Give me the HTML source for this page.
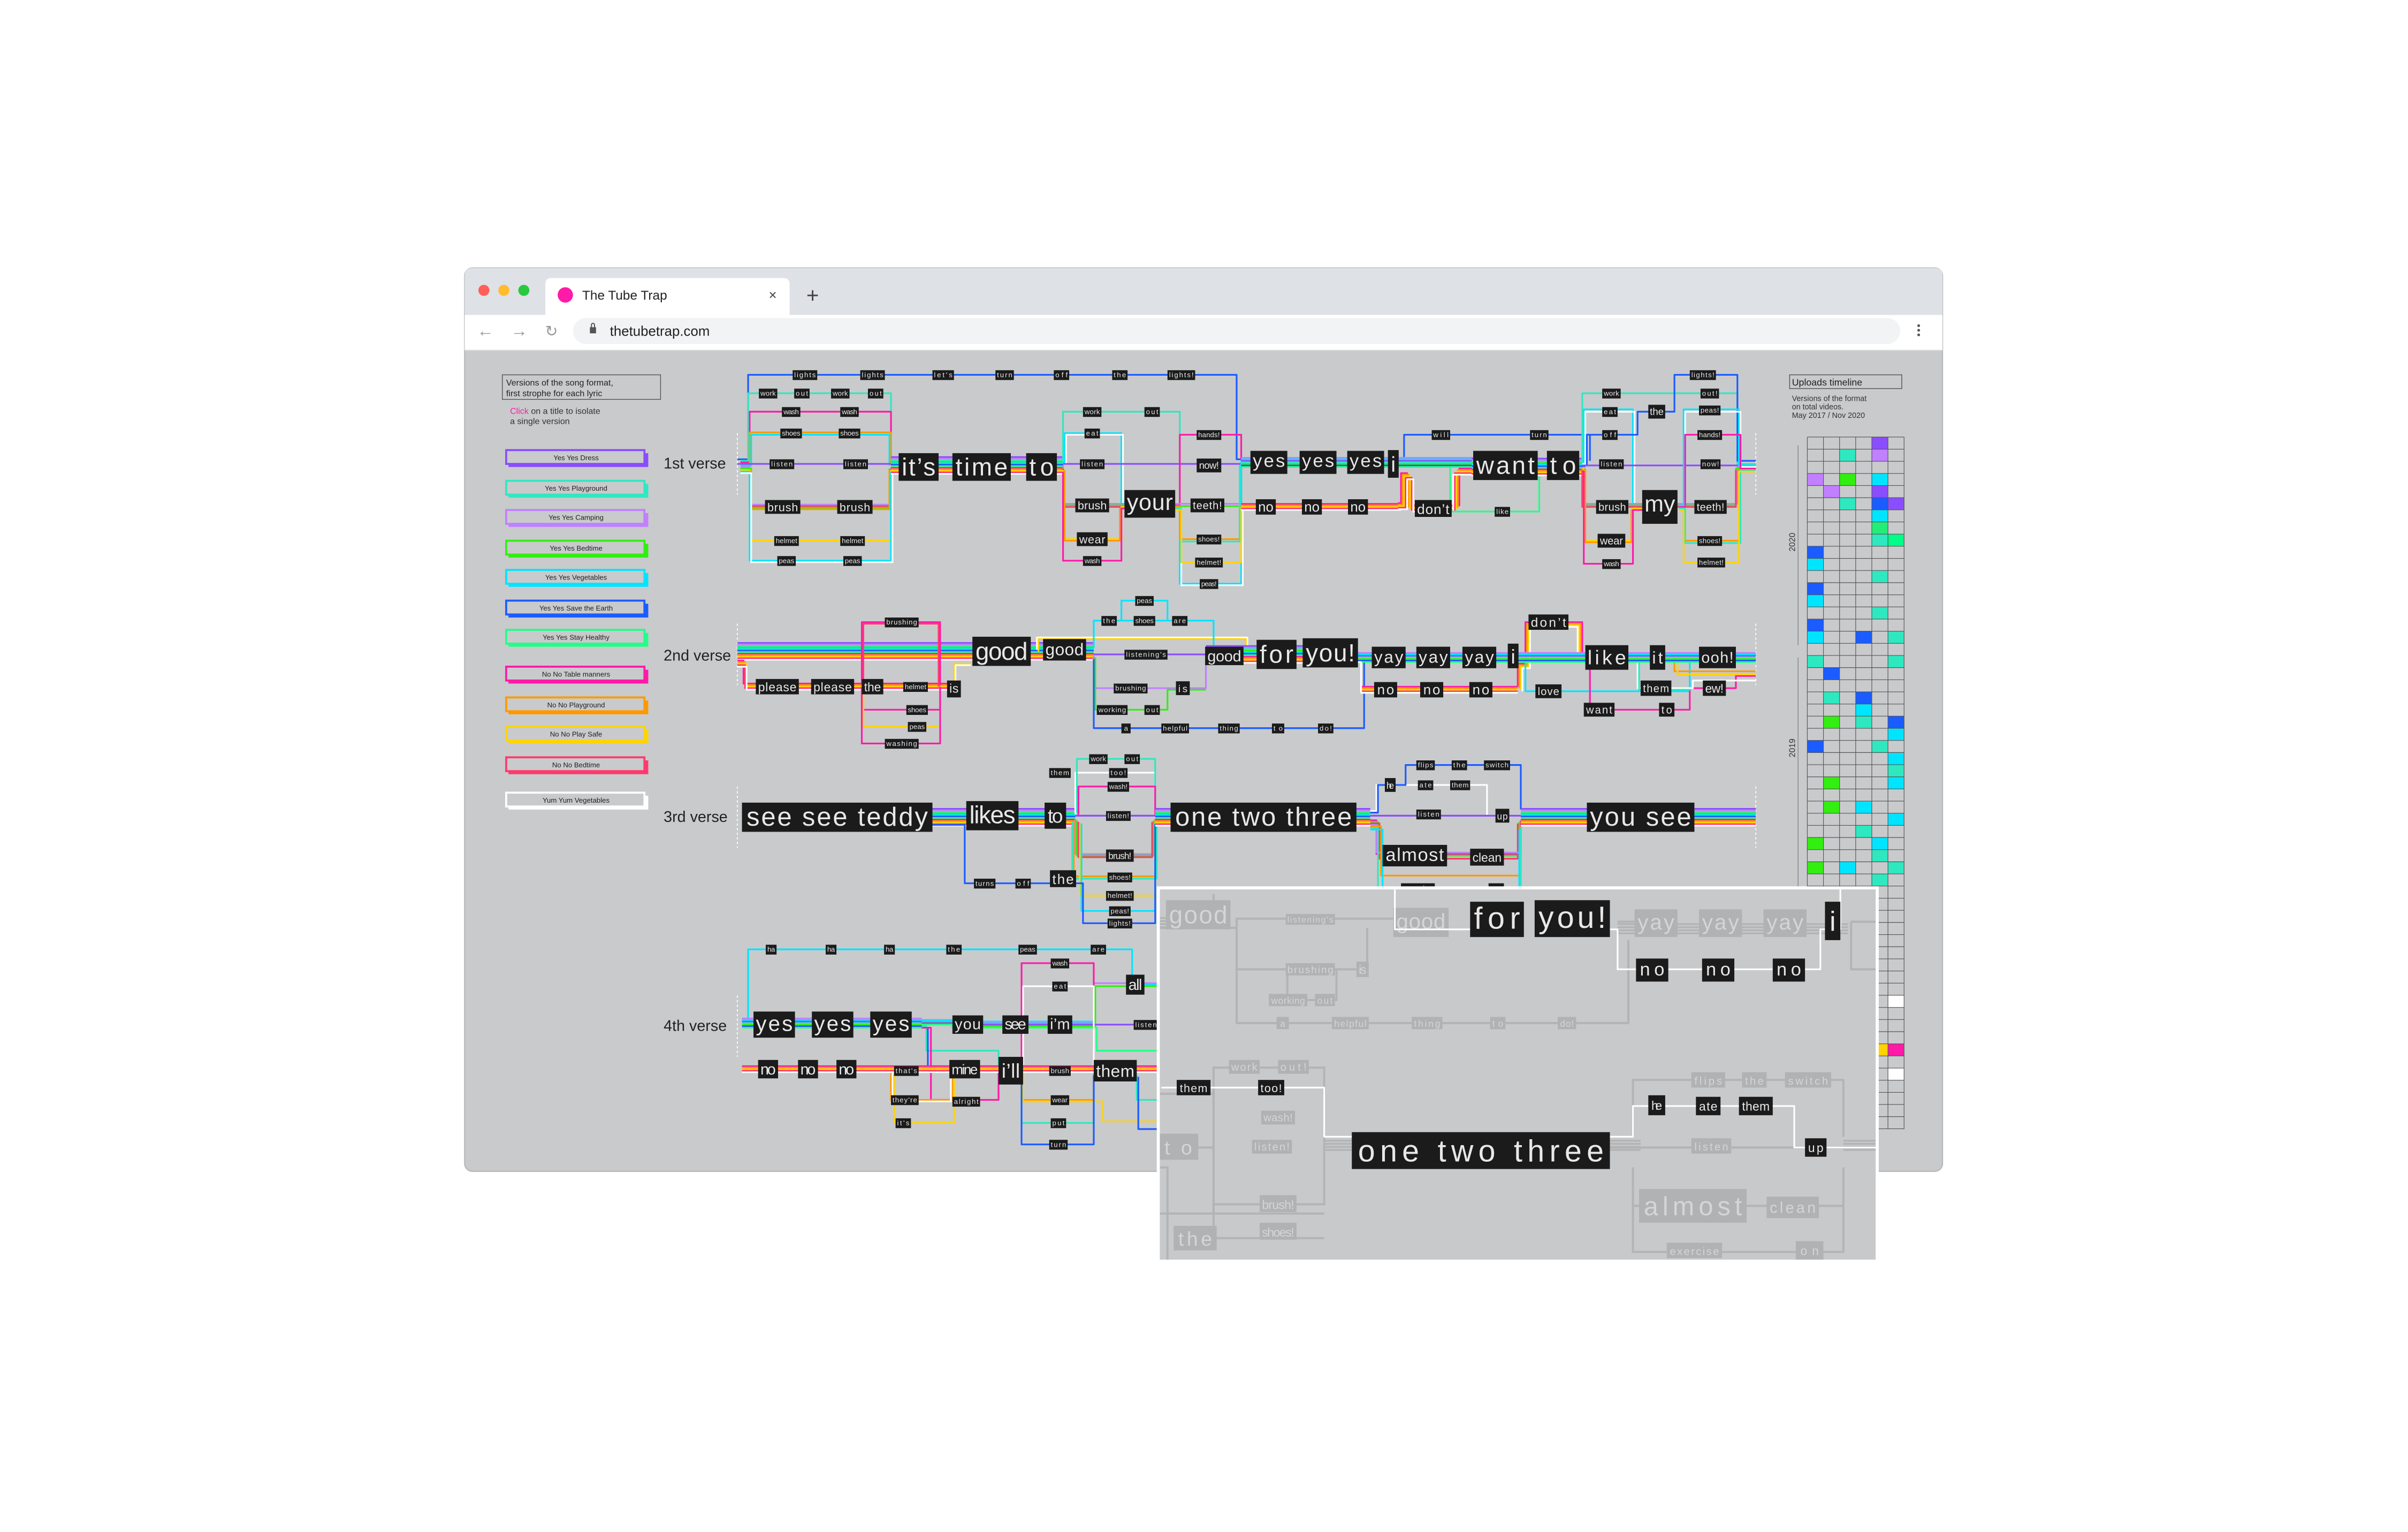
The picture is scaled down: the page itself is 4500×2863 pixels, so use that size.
<!DOCTYPE html>
<html><head><meta charset="utf-8"><style>
html,body{margin:0;padding:0;background:#fff}
svg{display:block}
text{font-family:"Liberation Sans",sans-serif}
.n rect{fill:#1b1b1b}
.n text{fill:#e8e8e8;text-anchor:middle}
.f rect{fill:#b1b2b4}
.f text{fill:#d4d5d7;text-anchor:middle}
.k{fill:none;stroke-width:1.1;stroke-linejoin:round}
.g{fill:none;stroke:#b3b4b6;stroke-width:1.4;stroke-linejoin:round}
.lg rect.b{fill:#c9cacc;stroke-width:1.3}
.lg text{font-size:4.6px;text-anchor:middle;fill:#222}
</style></head><body>
<svg width="4500" height="2863" viewBox="0 0 1567.4 997.3" preserveAspectRatio="xMinYMin meet" xmlns="http://www.w3.org/2000/svg">
<defs>
<g id="A"><rect y="-6" width="1" height="1" fill="#8a4dff"/><rect y="-5" width="1" height="1" fill="#c080ff"/><rect y="-4" width="1" height="1" fill="#2ee8c0"/><rect y="-3" width="1" height="1" fill="#33ee11"/><rect y="-2" width="1" height="1" fill="#00e5ff"/><rect y="-1" width="1" height="1" fill="#1a5cff"/><rect y="0" width="1" height="1" fill="#22ff88"/><rect y="1" width="1" height="1" fill="#ff1aa8"/><rect y="2" width="1" height="1" fill="#ff9900"/><rect y="3" width="1" height="1" fill="#ffd400"/><rect y="4" width="1" height="1" fill="#ff3a6e"/><rect y="5" width="1" height="1" fill="#ffffff"/></g>
<g id="Y"><rect y="-3.5" width="1" height="1" fill="#c080ff"/><rect y="-2.5" width="1" height="1" fill="#00e5ff"/><rect y="-1.5" width="1" height="1" fill="#8a4dff"/><rect y="-0.5" width="1" height="1" fill="#2ee8c0"/><rect y="0.5" width="1" height="1" fill="#33ee11"/><rect y="1.5" width="1" height="1" fill="#1a5cff"/><rect y="2.5" width="1" height="1" fill="#22ff88"/></g>
<g id="N"><rect y="-2.5" width="1" height="1" fill="#ff1aa8"/><rect y="-1.5" width="1" height="1" fill="#ff9900"/><rect y="-0.5" width="1" height="1" fill="#ffd400"/><rect y="0.5" width="1" height="1" fill="#ff3a6e"/><rect y="1.5" width="1" height="1" fill="#ffffff"/></g>
<g id="F"><rect y="-3" width="1" height="1.2" fill="#b3b4b6"/><rect y="-1" width="1" height="1.2" fill="#b3b4b6"/><rect y="1" width="1" height="1.2" fill="#b3b4b6"/><rect y="3" width="1" height="1.2" fill="#b3b4b6"/></g>
</defs>

<!-- browser window -->
<rect x="302.5" y="174.5" width="962" height="588" rx="5" fill="#c9cacc" stroke="#b8b8b8" stroke-width="0.8"/>
<path d="M302.5 205 V179.5 Q302.5 174.5 307.5 174.5 H1259.5 Q1264.5 174.5 1264.5 179.5 V205 Z" fill="#dee1e6"/>
<rect x="302.5" y="205" width="962" height="23" fill="#ffffff"/>
<circle cx="315" cy="189" r="3.6" fill="#ff5f57"/><circle cx="328" cy="189" r="3.6" fill="#febc2e"/><circle cx="341" cy="189" r="3.6" fill="#28c840"/>
<path d="M355 205 V185 Q355 181 359 181 H510 Q514 181 514 185 V205 Z" fill="#fff"/>
<circle cx="368" cy="192" r="5" fill="#ff1aa8"/>
<text x="379" y="195" font-size="8.5" fill="#222">The Tube Trap</text>
<text x="503" y="195" font-size="9" fill="#444" text-anchor="middle">×</text>
<text x="529" y="197" font-size="14" fill="#444" text-anchor="middle">+</text>
<text x="316" y="219" font-size="11" fill="#999" text-anchor="middle">←</text>
<text x="338" y="219" font-size="11" fill="#999" text-anchor="middle">→</text>
<text x="359" y="219" font-size="10" fill="#999" text-anchor="middle">↻</text>
<rect x="373" y="207" width="864" height="17" rx="8.5" fill="#f1f3f4"/>
<rect x="384" y="213" width="4" height="4" fill="#555"/><path d="M385 213 V211.5 A1 1 0 0 1 387 211.5 V213" stroke="#555" stroke-width="0.7" fill="none"/>
<text x="397" y="218.5" font-size="9" fill="#222">thetubetrap.com</text>
<circle cx="1249" cy="212" r="0.9" fill="#555"/><circle cx="1249" cy="215" r="0.9" fill="#555"/><circle cx="1249" cy="218" r="0.9" fill="#555"/>
<line x1="302.5" y1="228" x2="1264.5" y2="228" stroke="#ddd" stroke-width="0.6"/>

<!-- legend -->
<rect x="327" y="244" width="103" height="16" fill="none" stroke="#555" stroke-width="0.5"/>
<text x="329.5" y="251" font-size="5.6" fill="#222">Versions of the song format,</text>
<text x="329.5" y="258" font-size="5.6" fill="#222">first strophe for each lyric</text>
<text x="332" y="269.5" font-size="5.6" fill="#333"><tspan fill="#ff1aa8">Click</tspan> on a title to isolate</text>
<text x="332" y="276" font-size="5.6" fill="#333">a single version</text>
<g class="lg">
<rect x="331" y="295" width="91" height="9" fill="#8a4dff"/><rect class="b" x="329.5" y="293" width="90" height="9" stroke="#8a4dff"/><text x="375" y="299.5">Yes Yes Dress</text>
<rect x="331" y="315" width="91" height="9" fill="#2ee8c0"/><rect class="b" x="329.5" y="313" width="90" height="9" stroke="#2ee8c0"/><text x="375" y="319.5">Yes Yes Playground</text>
<rect x="331" y="334" width="91" height="9" fill="#c080ff"/><rect class="b" x="329.5" y="332" width="90" height="9" stroke="#c080ff"/><text x="375" y="338.5">Yes Yes Camping</text>
<rect x="331" y="354" width="91" height="9" fill="#33ee11"/><rect class="b" x="329.5" y="352" width="90" height="9" stroke="#33ee11"/><text x="375" y="358.5">Yes Yes Bedtime</text>
<rect x="331" y="373" width="91" height="9" fill="#00e5ff"/><rect class="b" x="329.5" y="371" width="90" height="9" stroke="#00e5ff"/><text x="375" y="377.5">Yes Yes Vegetables</text>
<rect x="331" y="393" width="91" height="9" fill="#1a5cff"/><rect class="b" x="329.5" y="391" width="90" height="9" stroke="#1a5cff"/><text x="375" y="397.5">Yes Yes Save the Earth</text>
<rect x="331" y="412" width="91" height="9" fill="#22ff88"/><rect class="b" x="329.5" y="410" width="90" height="9" stroke="#22ff88"/><text x="375" y="416.5">Yes Yes Stay Healthy</text>
<rect x="331" y="436" width="91" height="9" fill="#ff1aa8"/><rect class="b" x="329.5" y="434" width="90" height="9" stroke="#ff1aa8"/><text x="375" y="440.5">No No Table manners</text>
<rect x="331" y="456" width="91" height="9" fill="#ff9900"/><rect class="b" x="329.5" y="454" width="90" height="9" stroke="#ff9900"/><text x="375" y="460.5">No No Playground</text>
<rect x="331" y="475" width="91" height="9" fill="#ffd400"/><rect class="b" x="329.5" y="473" width="90" height="9" stroke="#ffd400"/><text x="375" y="479.5">No No Play Safe</text>
<rect x="331" y="495" width="91" height="9" fill="#ff3a6e"/><rect class="b" x="329.5" y="493" width="90" height="9" stroke="#ff3a6e"/><text x="375" y="499.5">No No Bedtime</text>
<rect x="331" y="518" width="91" height="9" fill="#ffffff"/><rect class="b" x="329.5" y="516" width="90" height="9" stroke="#ffffff"/><text x="375" y="522.5">Yum Yum Vegetables</text>
</g>

<!-- verse labels -->
<g font-size="10" fill="#222"><text x="432" y="305">1st verse</text><text x="432" y="430">2nd verse</text><text x="432" y="535">3rd verse</text><text x="432" y="671">4th verse</text></g>
<g stroke="#fff" stroke-width="0.6" stroke-dasharray="1.5 1.5"><line x1="480" y1="282" x2="480" y2="322"/><line x1="480" y1="406" x2="480" y2="446"/><line x1="480" y1="512" x2="480" y2="552"/><line x1="480" y1="648" x2="480" y2="688"/><line x1="1143" y1="282" x2="1143" y2="322"/><line x1="1143" y1="406" x2="1143" y2="446"/><line x1="1143" y1="512" x2="1143" y2="552"/></g>

<!-- ===== VERSE 1 lines ===== -->
<g class="k">
<path stroke="#1a5cff" d="M480 299 H487 V244 H805 V299 H815"/>
<path stroke="#2ee8c0" d="M482 300 H487 V256 H580 V301 H585"/>
<path stroke="#ff1aa8" d="M482 301 H488 V268 H580 V302 H585"/>
<path stroke="#ff9900" d="M482 302 H488 V281.5 H580 V303"/>
<path stroke="#00e5ff" d="M482 303 H489 V283 H579 V303"/>
<path stroke="#8a4dff" d="M480 302 H585"/>
<path stroke="#c080ff" d="M482 304 H488 V328.5 H580 V304"/>
<path stroke="#ff3a6e" d="M482 305 H488 V329.5 H580 V305"/>
<path stroke="#33ee11" d="M482 305 H489 V330.5 H579 V305"/>
<path stroke="#ff9900" d="M482 306 H489 V331.5 H579 V306"/>
<path stroke="#ffd400" d="M482 306 H488 V352 H580 V306"/>
<path stroke="#00e5ff" d="M482 307 H488 V365 H580 V307"/>
<path stroke="#ffffff" d="M482 308 H489 V366 H581 V308"/>
</g>
<use href="#A" transform="translate(580 303) scale(112 1)"/>
<g class="k">
<path stroke="#2ee8c0" d="M692 300 V268 H768 V302"/>
<path stroke="#00e5ff" d="M692 301 H693 V282 H730 V327 H735"/>
<path stroke="#ffffff" d="M692 302 H694 V283 H731 V328 H735"/>
<path stroke="#8a4dff" d="M692 302 H808"/>
<path stroke="#c080ff" d="M692 303 V328 H735"/>
<path stroke="#33ee11" d="M692 304 V329 H735"/>
<path stroke="#ff3a6e" d="M692 305 V330 H735"/>
<path stroke="#ffd400" d="M692 306 V351 H730 V330 H735"/>
<path stroke="#ff9900" d="M693 306 V352 H729 V331 H735"/>
<path stroke="#ff1aa8" d="M692 307 V365 H730 V331 H735"/>
<path stroke="#ff1aa8" d="M764 329 H768 V283 H808 V330 H815"/>
<path stroke="#c080ff" d="M764 328 H808 V301"/>
<path stroke="#33ee11" d="M764 329.5 H808 V302"/>
<path stroke="#00e5ff" d="M764 330 H768 V380 H808 V300 H815"/>
<path stroke="#ffffff" d="M764 331 H769 V381 H809 V332 H815"/>
<path stroke="#ff9900" d="M764 330 H768 V351 H808 V329 H815"/>
<path stroke="#2ee8c0" d="M764 331 H769 V352.5 H807 V303 H815"/>
<path stroke="#ffd400" d="M764 332 H769 V366 H808 V331 H815"/>
</g>
<use href="#Y" transform="translate(808 301) scale(104 1)"/>
<use href="#N" transform="translate(808 330) scale(104 1)"/>
<g class="k">
<path stroke="#ff1aa8" d="M910 327.5 H912 V308 H916 V329 H950 V305 H960"/>
<path stroke="#ff9900" d="M910 328.5 H913 V309 H917 V330 H949 V306 H960"/>
<path stroke="#ffd400" d="M910 329.5 H914 V310 H918 V331 H948 V307 H960"/>
<path stroke="#ff3a6e" d="M910 330.5 H915 V311 H919 V332 H947 V308 H960"/>
<path stroke="#ffffff" d="M910 331.5 H916 V312 H920 V333 H946 V309 H960"/>
<path stroke="#1a5cff" d="M910 299 H914 V283 H1035 V300"/>
<path stroke="#22ff88" d="M944 302 V333 H1002 V306 H1012"/>
</g>
<use href="#Y" transform="translate(910 301) scale(50 1)"/>
<use href="#A" transform="translate(958 304) scale(74 1)"/>
<g class="k">
<path stroke="#2ee8c0" d="M1030 300 V256 H1131 V302 H1143"/>
<path stroke="#00e5ff" d="M1030 301 H1031 V266.5 H1063 V328 H1070"/>
<path stroke="#ffffff" d="M1030 302 H1032 V268 H1064 V329 H1070"/>
<path stroke="#1a5cff" d="M1030 303 H1033 V283 H1066 V268 H1090 V244 H1131 V300 H1143"/>
<path stroke="#8a4dff" d="M1030 303 H1143"/>
<path stroke="#c080ff" d="M1030 304 V328 H1131 V304 H1143"/>
<path stroke="#33ee11" d="M1030 305 V329 H1130 V305 H1143"/>
<path stroke="#ff3a6e" d="M1030 306 V330 H1130 V306"/>
<path stroke="#ffd400" d="M1030 305 H1031 V352 H1063 V331 H1070"/>
<path stroke="#ff9900" d="M1030 306 H1032 V353 H1062 V332 H1070"/>
<path stroke="#ff1aa8" d="M1030 307 H1031 V367 H1063 V332 H1070"/>
<path stroke="#00e5ff" d="M1093 329 H1096 V266.5 H1132 V303 H1143"/>
<path stroke="#ffffff" d="M1093 330 H1097 V268 H1133 V304 H1143"/>
<path stroke="#ff1aa8" d="M1093 330 H1097 V283 H1133 V305 H1143"/>
<path stroke="#ff9900" d="M1093 331 H1096 V352 H1132 V306 H1143"/>
<path stroke="#2ee8c0" d="M1093 331 H1097 V353.5 H1133 V306.5 H1143"/>
<path stroke="#ffd400" d="M1093 332 H1096 V366 H1132 V307 H1143"/>
</g>

<!-- ===== VERSE 2 lines ===== -->
<use href="#A" transform="translate(480 424) scale(152 1)"/>
<g class="k">
<path stroke="#ff1aa8" d="M480 430 H484 V445 H621"/>
<path stroke="#ff9900" d="M480 431 H485 V446 H621"/>
<path stroke="#ffd400" d="M480 432 H486 V447 H621 V432 H632"/>
<path stroke="#ff3a6e" d="M480 433 H485 V448 H621"/>
<path stroke="#ffffff" d="M480 434 H486 V449 H622 V433 H632"/>
<path stroke="#ff1aa8" d="M561 446 V405 H612 V446"/>
<path stroke="#ff3a6e" d="M562 447 V406 H611 V447"/>
<path stroke="#ff1aa8" d="M561 447 V462 H612 V447"/>
<path stroke="#ffd400" d="M562 448 V473 H611"/>
<path stroke="#ff1aa8" d="M561 448 V484 H612 V448"/>
</g>
<use href="#A" transform="translate(632 424) scale(80 1)"/>
<g class="k">
<path stroke="#ffffff" d="M675 423 V415 H812 V426 H816"/>
<path stroke="#ffd400" d="M676 424 V416 H811 V427"/>
<path stroke="#00e5ff" d="M712 422 V404 H790 V425"/>
<path stroke="#00e5ff" d="M730 404 V391 H760 V404"/>
<path stroke="#8a4dff" d="M712 426 H790"/>
<path stroke="#c080ff" d="M712 427 V448 H785 V427"/>
<path stroke="#33ee11" d="M713 428 V462 H760 V449 H785"/>
<path stroke="#1a5cff" d="M712 429 V474 H888 V430"/>
</g>
<use href="#A" transform="translate(785 426) scale(95 1)"/>
<use href="#Y" transform="translate(880 428) scale(108 1)"/>
<use href="#N" transform="translate(886 449) scale(102 1)"/>
<g class="k">
<path stroke="#ffffff" d="M880 431 H886 V451 H988"/>
<path stroke="#ff1aa8" d="M988 447 V432 H993 V405 H1030 V426 H1040"/>
<path stroke="#ff9900" d="M989 448 V433 H994 V406 H1029 V427"/>
<path stroke="#ffd400" d="M990 449 V434 H995 V407 H1028 V428"/>
<path stroke="#ffffff" d="M991 450 V435 H996 V408 H1027 V429"/>
<path stroke="#00e5ff" d="M993 431 V450 H1100 V430 H1143"/>
<path stroke="#ff1aa8" d="M1035 431 V462 H1100 V448 H1130 V440 H1143"/>
<path stroke="#ffffff" d="M1066 430 V448 H1102 V443 H1143"/>
<path stroke="#2ee8c0" d="M1067 431 V449 H1101"/>
<path stroke="#ff9900" d="M1090 431 V437 H1143"/>
<path stroke="#ffd400" d="M1092 432 V439 H1143"/>
</g>
<use href="#Y" transform="translate(985 428) scale(158 1)"/>

<!-- ===== VERSE 3 lines ===== -->
<use href="#A" transform="translate(483 532) scale(217 1)"/>
<g class="k">
<path stroke="#ffffff" d="M700 530 V503 H752 V530 H762"/>
<path stroke="#2ee8c0" d="M701 529 V494 H752 V529"/>
<path stroke="#ff1aa8" d="M702 531 V512 H752 V531"/>
<path stroke="#8a4dff" d="M700 531 H762"/>
<path stroke="#c080ff" d="M700 533 V556 H752 V533"/>
<path stroke="#33ee11" d="M701 534 V557 H751 V534"/>
<path stroke="#ff3a6e" d="M702 535 V558 H750 V535"/>
<path stroke="#ff9900" d="M699 534 V570.5 H752 V534"/>
<path stroke="#2ee8c0" d="M698 535 V572 H753 V535"/>
<path stroke="#ffd400" d="M703 536 V583 H752 V536"/>
<path stroke="#00e5ff" d="M704 536 V593 H752 V536"/>
<path stroke="#1a5cff" d="M607 537 H628 V575 H705 V601 H752 V537 H762"/>
</g>
<use href="#A" transform="translate(752 532) scale(140 1)"/>
<g class="k">
<path stroke="#ffffff" d="M892 528 H896 V511 H968 V531 H990"/>
<path stroke="#1a5cff" d="M892 529 H897 V511 H915 V498 H990 V527"/>
<path stroke="#8a4dff" d="M892 531 H990"/>
<path stroke="#ff1aa8" d="M892 534 H896 V556 H990 V534"/>
<path stroke="#33ee11" d="M892 535 H897 V557 H989 V535"/>
<path stroke="#ff3a6e" d="M892 536 H898 V559 H988 V536"/>
<path stroke="#c080ff" d="M892 537 H896 V555 H990"/>
<path stroke="#ff9900" d="M892 538 H899 V570 H990 V538"/>
<path stroke="#2ee8c0" d="M892 539 H897 V580 H990 V539"/>
<path stroke="#00e5ff" d="M892 540 H900 V580 H989 V540"/>
</g>
<use href="#A" transform="translate(990 532) scale(153 1)"/>

<!-- ===== VERSE 4 lines ===== -->
<g class="k">
<path stroke="#00e5ff" d="M483 663 H487 V618 H737 V641 H755"/>
</g>
<use href="#Y" transform="translate(483 666) scale(117 1)"/>
<g class="k">
<path stroke="#c080ff" d="M600 664 H620 V666 H712 V640 H755"/>
<path stroke="#33ee11" d="M600 665 H620 V668 H713 V642 H755"/>
<path stroke="#8a4dff" d="M600 666 H620 V667 H755"/>
<path stroke="#00e5ff" d="M600 664.5 H620 V665 H712"/>
<path stroke="#22ff88" d="M600 667 H620 V669 H714 V684 H755"/>
<path stroke="#2ee8c0" d="M600 668 H603 V684 H650 V697"/>
<path stroke="#1a5cff" d="M600 669 H604 V697 H650"/>
<path stroke="#ff1aa8" d="M600 669 H606 V716 H650 V697"/>
<path stroke="#ff9900" d="M580 697 V716 H620 V697"/>
<path stroke="#ffffff" d="M581 698 V717 H619 V698"/>
<path stroke="#ffd400" d="M582 699 V731 H621 V699"/>
<path stroke="#ff1aa8" d="M665 696 V627 H712 V696"/>
<path stroke="#ffffff" d="M666 697 V642 H712 V697"/>
<path stroke="#ff9900" d="M665 698 V716 H712 V698"/>
<path stroke="#ffd400" d="M666 699 V717 H718 V730 H754"/>
<path stroke="#2ee8c0" d="M665 699 V731 H712 V699"/>
<path stroke="#1a5cff" d="M665 700 V745 H712 V700"/>
<path stroke="#2ee8c0" d="M740 700 V716 H754"/>
<path stroke="#1a5cff" d="M741 701 V735 H754"/>
</g>
<use href="#N" transform="translate(483 696) scale(271 1)"/>

<!-- ===== NODES ===== -->
<g class="n">
<g font-size="4.6">
<rect x="516" y="241" width="16" height="6.4"/><text x="524" y="245.6" textLength="14">lights</text>
<rect x="560" y="241" width="16" height="6.4"/><text x="568" y="245.6" textLength="14">lights</text>
<rect x="607" y="241" width="14" height="6.4"/><text x="614" y="245.6" textLength="12">let's</text>
<rect x="648" y="241" width="12" height="6.4"/><text x="654" y="245.6" textLength="10">turn</text>
<rect x="686" y="241" width="10" height="6.4"/><text x="691" y="245.6" textLength="8">off</text>
<rect x="724" y="241" width="10" height="6.4"/><text x="729" y="245.6" textLength="8">the</text>
<rect x="760" y="241" width="18" height="6.4"/><text x="769" y="245.6" textLength="16">lights!</text>
<rect x="494" y="253" width="12" height="6.4"/><text x="500" y="257.6" textLength="10">work</text>
<rect x="517" y="253" width="10" height="6.4"/><text x="522" y="257.6" textLength="8">out</text>
<rect x="541" y="253" width="12" height="6.4"/><text x="547" y="257.6" textLength="10">work</text>
<rect x="565" y="253" width="10" height="6.4"/><text x="570" y="257.6" textLength="8">out</text>
<rect x="509" y="265" width="12" height="6.4"/><text x="515" y="269.6" textLength="10">wash</text>
<rect x="547" y="265" width="12" height="6.4"/><text x="553" y="269.6" textLength="10">wash</text>
<rect x="508" y="279" width="14" height="6.4"/><text x="515" y="283.6" textLength="12">shoes</text>
<rect x="546" y="279" width="14" height="6.4"/><text x="553" y="283.6" textLength="12">shoes</text>
<rect x="501" y="299" width="16" height="6.4"/><text x="509" y="303.6" textLength="14">listen</text>
<rect x="549" y="299" width="16" height="6.4"/><text x="557" y="303.6" textLength="14">listen</text>
<rect x="504" y="349" width="16" height="6.4"/><text x="512" y="353.6" textLength="14">helmet</text>
<rect x="547" y="349" width="16" height="6.4"/><text x="555" y="353.6" textLength="14">helmet</text>
<rect x="506" y="362" width="12" height="6.4"/><text x="512" y="366.6" textLength="10">peas</text>
<rect x="549" y="362" width="12" height="6.4"/><text x="555" y="366.6" textLength="10">peas</text>
<rect x="705" y="265" width="12" height="6.4"/><text x="711" y="269.6" textLength="10">work</text>
<rect x="745" y="265" width="10" height="6.4"/><text x="750" y="269.6" textLength="8">out</text>
<rect x="706" y="279" width="10" height="6.4"/><text x="711" y="283.6" textLength="8">eat</text>
<rect x="703" y="299" width="16" height="6.4"/><text x="711" y="303.6" textLength="14">listen</text>
<rect x="705" y="362" width="12" height="6.4"/><text x="711" y="366.6" textLength="10">wash</text>
<rect x="779" y="280" width="16" height="6.4"/><text x="787" y="284.6" textLength="14">hands!</text>
<rect x="779" y="348" width="16" height="6.4"/><text x="787" y="352.6" textLength="14">shoes!</text>
<rect x="778" y="363" width="18" height="6.4"/><text x="787" y="367.6" textLength="16">helmet!</text>
<rect x="781" y="377" width="12" height="6.4"/><text x="787" y="381.6" textLength="10">peas!</text>
<rect x="932" y="280" width="12" height="6.4"/><text x="938" y="284.6" textLength="10">will</text>
<rect x="996" y="280" width="12" height="6.4"/><text x="1002" y="284.6" textLength="10">turn</text>
<rect x="1043" y="280" width="10" height="6.4"/><text x="1048" y="284.6" textLength="8">off</text>
<rect x="973" y="330" width="10" height="6.4"/><text x="978" y="334.6" textLength="8">like</text>
<rect x="1043" y="253" width="12" height="6.4"/><text x="1049" y="257.6" textLength="10">work</text>
<rect x="1043" y="265" width="10" height="6.4"/><text x="1048" y="269.6" textLength="8">eat</text>
<rect x="1100" y="241" width="17" height="6.4"/><text x="1108.5" y="245.6" textLength="15">lights!</text>
<rect x="1107" y="253" width="12" height="6.4"/><text x="1113" y="257.6" textLength="10">out!</text>
<rect x="1106" y="264" width="14" height="6.4"/><text x="1113" y="268.6" textLength="12">peas!</text>
<rect x="1105" y="280" width="16" height="6.4"/><text x="1113" y="284.6" textLength="14">hands!</text>
<rect x="1041" y="299" width="16" height="6.4"/><text x="1049" y="303.6" textLength="14">listen</text>
<rect x="1107" y="299" width="13" height="6.4"/><text x="1113.5" y="303.6" textLength="11">now!</text>
<rect x="1105" y="349" width="16" height="6.4"/><text x="1113" y="353.6" textLength="14">shoes!</text>
<rect x="1043" y="364" width="12" height="6.4"/><text x="1049" y="368.6" textLength="10">wash</text>
<rect x="1105" y="363" width="18" height="6.4"/><text x="1114" y="367.6" textLength="16">helmet!</text>
</g>
<rect x="498" y="325.5" width="23" height="9"/><text x="509.5" y="332.8" font-size="7.5" textLength="20">brush</text>
<rect x="545" y="325.5" width="23" height="9"/><text x="556.5" y="332.8" font-size="7.5" textLength="20">brush</text>
<rect x="585" y="295" width="26" height="18"/><text x="598" y="309.5" font-size="16" textLength="22">it’s</text>
<rect x="620" y="295" width="38" height="18"/><text x="639" y="309.5" font-size="16" textLength="34">time</text>
<rect x="668" y="295" width="20" height="18"/><text x="678" y="309.5" font-size="16" textLength="16">to</text>
<rect x="700" y="324.5" width="22" height="9"/><text x="711" y="331.7" font-size="7.5" textLength="19">brush</text>
<rect x="732" y="319" width="33" height="18"/><text x="748.5" y="332" font-size="15" textLength="30">your</text>
<rect x="701" y="346.5" width="20" height="9"/><text x="711" y="353.7" font-size="7.5" textLength="17">wear</text>
<rect x="779" y="298.5" width="16" height="9"/><text x="787" y="305.2" font-size="6.5" textLength="13">now!</text>
<rect x="775" y="324.5" width="22" height="9"/><text x="786" y="331.5" font-size="7" textLength="19">teeth!</text>
<rect x="814" y="293.5" width="24" height="15"/><text x="826" y="304" font-size="12" textLength="21">yes</text>
<rect x="846" y="293.5" width="24" height="15"/><text x="858" y="304" font-size="12" textLength="21">yes</text>
<rect x="877" y="293.5" width="24" height="15"/><text x="889" y="304" font-size="12" textLength="21">yes</text>
<rect x="903.5" y="293" width="7" height="18"/><text x="907" y="307" font-size="14" textLength="3">i</text>
<rect x="817.5" y="325" width="13" height="10"/><text x="824" y="333" font-size="9" textLength="10">no</text>
<rect x="847.5" y="325" width="13" height="10"/><text x="854" y="333" font-size="9" textLength="10">no</text>
<rect x="877.5" y="325" width="13" height="10"/><text x="884" y="333" font-size="9" textLength="10">no</text>
<rect x="959" y="293.5" width="42" height="19"/><text x="980" y="308.5" font-size="16" textLength="38">want</text>
<rect x="1007" y="293.5" width="21" height="19"/><text x="1017.5" y="308.5" font-size="16" textLength="17">to</text>
<rect x="921" y="325.5" width="24" height="11"/><text x="933" y="334.5" font-size="9" textLength="21">don’t</text>
<rect x="1073" y="263.5" width="11" height="9"/><text x="1078.5" y="270.2" font-size="6.5" textLength="9">the</text>
<rect x="1039" y="325.5" width="21" height="9"/><text x="1049.5" y="332.5" font-size="7" textLength="18">brush</text>
<rect x="1069" y="319" width="23" height="22"/><text x="1080.5" y="333" font-size="15" textLength="20">my</text>
<rect x="1103" y="325.5" width="21" height="9"/><text x="1113.5" y="332.5" font-size="7" textLength="18">teeth!</text>
<rect x="1040" y="347.5" width="18" height="9"/><text x="1049" y="354.5" font-size="7" textLength="15">wear</text>

<g font-size="4.6">
<rect x="576" y="402" width="22" height="6.4"/><text x="587" y="406.6" textLength="20">brushing</text>
<rect x="588" y="444" width="16" height="6.4"/><text x="596" y="448.6" textLength="14">helmet</text>
<rect x="590" y="459" width="14" height="6.4"/><text x="597" y="463.6" textLength="12">shoes</text>
<rect x="591" y="470" width="12" height="6.4"/><text x="597" y="474.6" textLength="10">peas</text>
<rect x="576" y="481" width="22" height="6.4"/><text x="587" y="485.6" textLength="20">washing</text>
<rect x="739" y="388" width="12" height="6.4"/><text x="745" y="392.6" textLength="10">peas</text>
<rect x="717" y="401" width="10" height="6.4"/><text x="722" y="405.6" textLength="8">the</text>
<rect x="738" y="401" width="14" height="6.4"/><text x="745" y="405.6" textLength="12">shoes</text>
<rect x="763" y="401" width="10" height="6.4"/><text x="768" y="405.6" textLength="8">are</text>
<rect x="732" y="423" width="28" height="6.4"/><text x="746" y="427.6" textLength="26">listening's</text>
<rect x="725" y="445" width="22" height="6.4"/><text x="736" y="449.6" textLength="20">brushing</text>
<rect x="714" y="459" width="20" height="6.4"/><text x="724" y="463.6" textLength="18">working</text>
<rect x="745" y="459" width="10" height="6.4"/><text x="750" y="463.6" textLength="8">out</text>
<rect x="730" y="471" width="6" height="6.4"/><text x="733" y="475.6" textLength="4">a</text>
<rect x="756" y="471" width="18" height="6.4"/><text x="765" y="475.6" textLength="16">helpful</text>
<rect x="793" y="471" width="14" height="6.4"/><text x="800" y="475.6" textLength="12">thing</text>
<rect x="828" y="471" width="8" height="6.4"/><text x="832" y="475.6" textLength="6">to</text>
<rect x="858" y="471" width="10" height="6.4"/><text x="863" y="475.6" textLength="8">do!</text>
</g>
<rect x="492" y="442" width="28" height="10"/><text x="506" y="450" font-size="8" textLength="25">please</text>
<rect x="528" y="442" width="28" height="10"/><text x="542" y="450" font-size="8" textLength="25">please</text>
<rect x="561" y="442" width="14" height="10"/><text x="568" y="450" font-size="8" textLength="11">the</text>
<rect x="616.5" y="443" width="9" height="11"/><text x="621" y="451" font-size="8" textLength="6">is</text>
<rect x="633" y="414.5" width="38" height="19"/><text x="652" y="429.5" font-size="16" textLength="34">good</text>
<rect x="679" y="416" width="28" height="14"/><text x="693" y="426.5" font-size="11" textLength="25">good</text>
<rect x="765.5" y="443.5" width="9" height="9"/><text x="770" y="450.5" font-size="6.5" textLength="6">is</text>
<rect x="784.5" y="421" width="25" height="12"/><text x="797" y="430.5" font-size="10" textLength="22">good</text>
<rect x="818" y="416.5" width="26" height="19"/><text x="831" y="431.5" font-size="16" textLength="22">for</text>
<rect x="848" y="415.5" width="36" height="19"/><text x="866" y="430.5" font-size="16" textLength="32">you!</text>
<rect x="893" y="421" width="22" height="14"/><text x="904" y="431.5" font-size="11" textLength="19">yay</text>
<rect x="922" y="421" width="22" height="14"/><text x="933" y="431.5" font-size="11" textLength="19">yay</text>
<rect x="952" y="421" width="22" height="14"/><text x="963" y="431.5" font-size="11" textLength="19">yay</text>
<rect x="981.5" y="419" width="7" height="16"/><text x="985" y="432" font-size="13" textLength="3">i</text>
<rect x="894.5" y="444" width="15" height="10"/><text x="902" y="452" font-size="9" textLength="11">no</text>
<rect x="924.5" y="444" width="15" height="10"/><text x="932" y="452" font-size="9" textLength="11">no</text>
<rect x="956.5" y="444" width="15" height="10"/><text x="964" y="452" font-size="9" textLength="11">no</text>
<rect x="995" y="400" width="26" height="10"/><text x="1008" y="408" font-size="8.5" textLength="23">don’t</text>
<rect x="1032" y="420" width="28" height="16"/><text x="1046" y="432.5" font-size="13" textLength="25">like</text>
<rect x="1074" y="420" width="10" height="16"/><text x="1079" y="432" font-size="11" textLength="7">it</text>
<rect x="1106" y="421" width="24" height="14"/><text x="1118" y="431.5" font-size="10" textLength="21">ooh!</text>
<rect x="999.5" y="445.5" width="17" height="9"/><text x="1008" y="452.5" font-size="7" textLength="14">love</text>
<rect x="1068" y="443" width="20" height="10"/><text x="1078" y="450.5" font-size="7" textLength="17">them</text>
<rect x="1108.5" y="443" width="15" height="10"/><text x="1116" y="451" font-size="8" textLength="12">ew!</text>
<rect x="1031" y="457.5" width="20" height="9"/><text x="1041" y="464.5" font-size="7" textLength="17">want</text>
<rect x="1080" y="457.5" width="10" height="9"/><text x="1085" y="464.5" font-size="7" textLength="7">to</text>

<g font-size="4.6">
<rect x="683" y="500" width="14" height="6.4"/><text x="690" y="504.6" textLength="12">them</text>
<rect x="709" y="491" width="12" height="6.4"/><text x="715" y="495.6" textLength="10">work</text>
<rect x="732" y="491" width="10" height="6.4"/><text x="737" y="495.6" textLength="8">out</text>
<rect x="722" y="500" width="12" height="6.4"/><text x="728" y="504.6" textLength="10">too!</text>
<rect x="721" y="509" width="14" height="6.4"/><text x="728" y="513.6" textLength="12">wash!</text>
<rect x="720" y="528" width="16" height="6.4"/><text x="728" y="532.6" textLength="14">listen!</text>
<rect x="721" y="568" width="16" height="6.4"/><text x="729" y="572.6" textLength="14">shoes!</text>
<rect x="720" y="580" width="18" height="6.4"/><text x="729" y="584.6" textLength="16">helmet!</text>
<rect x="722" y="590" width="14" height="6.4"/><text x="729" y="594.6" textLength="12">peas!</text>
<rect x="721" y="598" width="16" height="6.4"/><text x="729" y="602.6" textLength="14">lights!</text>
<rect x="634" y="572" width="14" height="6.4"/><text x="641" y="576.6" textLength="12">turns</text>
<rect x="661" y="572" width="10" height="6.4"/><text x="666" y="576.6" textLength="8">off</text>
<rect x="922" y="495" width="12" height="6.4"/><text x="928" y="499.6" textLength="10">flips</text>
<rect x="945" y="495" width="10" height="6.4"/><text x="950" y="499.6" textLength="8">the</text>
<rect x="966" y="495" width="17" height="6.4"/><text x="974.5" y="499.6" textLength="15">switch</text>
<rect x="923" y="508" width="10" height="6.4"/><text x="928" y="512.6" textLength="8">ate</text>
<rect x="944" y="508" width="13" height="6.4"/><text x="950.5" y="512.6" textLength="11">them</text>
<rect x="922" y="527" width="16" height="6.4"/><text x="930" y="531.6" textLength="14">listen</text>
<rect x="912" y="575" width="22" height="6.4"/><text x="923" y="579.6" textLength="20">exercise</text>
<rect x="969" y="575" width="10" height="6.4"/><text x="974" y="579.6" textLength="8">on</text>
</g>
<rect x="483" y="522.5" width="124" height="19"/><text x="545" y="537.5" font-size="17" textLength="118">see see teddy</text>
<rect x="629" y="521.5" width="34" height="19"/><text x="646" y="536" font-size="16" textLength="30">likes</text>
<rect x="680" y="522.5" width="14" height="17"/><text x="687" y="535.5" font-size="13" textLength="10">to</text>
<rect x="720" y="553" width="18" height="8"/><text x="729" y="559.3" font-size="6" textLength="15">brush!</text>
<rect x="683.5" y="566.5" width="17" height="11"/><text x="692" y="575.5" font-size="9" textLength="14">the</text>
<rect x="762" y="522.5" width="121" height="19"/><text x="822.5" y="537.5" font-size="17" textLength="115">one two three</text>
<rect x="901.5" y="506.5" width="7" height="9"/><text x="905" y="513.5" font-size="6" textLength="5">he</text>
<rect x="973.5" y="526.5" width="9" height="9"/><text x="978" y="533.5" font-size="6" textLength="7">up</text>
<rect x="900" y="550" width="42" height="14"/><text x="921" y="560.5" font-size="12" textLength="38">almost</text>
<rect x="957" y="552.5" width="22" height="11"/><text x="968" y="561" font-size="8" textLength="19">clean</text>
<rect x="1033" y="522.5" width="70" height="19"/><text x="1068" y="537.5" font-size="17" textLength="66">you see</text>

<g font-size="4.6">
<rect x="498.5" y="615" width="7" height="6.4"/><text x="502" y="619.6" textLength="5">ha</text>
<rect x="537.5" y="615" width="7" height="6.4"/><text x="541" y="619.6" textLength="5">ha</text>
<rect x="575.5" y="615" width="7" height="6.4"/><text x="579" y="619.6" textLength="5">ha</text>
<rect x="616" y="615" width="10" height="6.4"/><text x="621" y="619.6" textLength="8">the</text>
<rect x="663" y="615" width="12" height="6.4"/><text x="669" y="619.6" textLength="10">peas</text>
<rect x="710" y="615" width="10" height="6.4"/><text x="715" y="619.6" textLength="8">are</text>
<rect x="684" y="624" width="12" height="6.4"/><text x="690" y="628.6" textLength="10">wash</text>
<rect x="685" y="639" width="10" height="6.4"/><text x="690" y="643.6" textLength="8">eat</text>
<rect x="738" y="664" width="16" height="6.4"/><text x="746" y="668.6" textLength="14">listen</text>
<rect x="582" y="694" width="16" height="6.4"/><text x="590" y="698.6" textLength="14">that's</text>
<rect x="683" y="694" width="14" height="6.4"/><text x="690" y="698.6" textLength="12">brush</text>
<rect x="580" y="713" width="18" height="6.4"/><text x="589" y="717.6" textLength="16">they're</text>
<rect x="620" y="714" width="18" height="6.4"/><text x="629" y="718.6" textLength="16">alright</text>
<rect x="684" y="713" width="12" height="6.4"/><text x="690" y="717.6" textLength="10">wear</text>
<rect x="583" y="728" width="10" height="6.4"/><text x="588" y="732.6" textLength="8">it's</text>
<rect x="684" y="728" width="10" height="6.4"/><text x="689" y="732.6" textLength="8">put</text>
<rect x="683" y="742" width="12" height="6.4"/><text x="689" y="746.6" textLength="10">turn</text>
</g>
<rect x="733" y="634.5" width="12" height="13"/><text x="739" y="644.5" font-size="10" textLength="9">all</text>
<rect x="490.5" y="658.5" width="27" height="17"/><text x="504" y="671" font-size="14" textLength="24">yes</text>
<rect x="528.5" y="658.5" width="27" height="17"/><text x="542" y="671" font-size="14" textLength="24">yes</text>
<rect x="566.5" y="658.5" width="27" height="17"/><text x="580" y="671" font-size="14" textLength="24">yes</text>
<rect x="620" y="661" width="20" height="12"/><text x="630" y="670" font-size="10" textLength="17">you</text>
<rect x="652.5" y="661" width="17" height="12"/><text x="661" y="670" font-size="10" textLength="14">see</text>
<rect x="682" y="661" width="16" height="12"/><text x="690" y="670" font-size="10" textLength="13">i’m</text>
<rect x="493.5" y="690" width="13" height="12"/><text x="500" y="699.5" font-size="10" textLength="10">no</text>
<rect x="519.5" y="690" width="13" height="12"/><text x="526" y="699.5" font-size="10" textLength="10">no</text>
<rect x="544.5" y="690" width="13" height="12"/><text x="551" y="699.5" font-size="10" textLength="10">no</text>
<rect x="618" y="690" width="20" height="12"/><text x="628" y="699.3" font-size="9" textLength="17">mine</text>
<rect x="650" y="688" width="16" height="18"/><text x="658" y="701.5" font-size="13" textLength="12">i’ll</text>
<rect x="712" y="690" width="28" height="14"/><text x="726" y="701" font-size="11" textLength="25">them</text>
</g>

<!-- ===== timeline ===== -->
<rect x="1165" y="244" width="73" height="9" fill="none" stroke="#555" stroke-width="0.5"/>
<text x="1166.5" y="251" font-size="6.2" fill="#222">Uploads timeline</text>
<g font-size="5" fill="#333"><text x="1166.5" y="261">Versions of the format</text><text x="1166.5" y="266.5">on total videos.</text><text x="1166.5" y="272">May 2017 / Nov 2020</text></g>
<text transform="translate(1168.5 359) rotate(-90)" font-size="5.5" fill="#333">2020</text>
<text transform="translate(1168.5 493) rotate(-90)" font-size="5.5" fill="#333">2019</text>
<line x1="1170.5" y1="290" x2="1170.5" y2="420" stroke="#888" stroke-width="0.5"/>
<line x1="1170.5" y1="428" x2="1170.5" y2="630" stroke="#888" stroke-width="0.5"/>
<line x1="1170.5" y1="640" x2="1170.5" y2="735" stroke="#888" stroke-width="0.5"/>
<g>
<rect x="1218.5" y="284.5" width="10.5" height="7.9" fill="#8a4dff"/>
<rect x="1197.5" y="292.4" width="10.5" height="7.9" fill="#2ee8c0"/><rect x="1218.5" y="292.4" width="10.5" height="7.9" fill="#c080ff"/>
<rect x="1176.5" y="308.2" width="10.5" height="7.9" fill="#c080ff"/><rect x="1197.5" y="308.2" width="10.5" height="7.9" fill="#33ee11"/><rect x="1218.5" y="308.2" width="10.5" height="7.9" fill="#00e5ff"/>
<rect x="1187" y="316.1" width="10.5" height="7.9" fill="#c080ff"/><rect x="1218.5" y="316.1" width="10.5" height="7.9" fill="#8a4dff"/>
<rect x="1197.5" y="324" width="10.5" height="7.9" fill="#2ee8c0"/><rect x="1218.5" y="324" width="10.5" height="7.9" fill="#1a5cff"/><rect x="1229" y="324" width="10.5" height="7.9" fill="#8a4dff"/>
<rect x="1218.5" y="331.9" width="10.5" height="7.9" fill="#00e5ff"/>
<rect x="1218.5" y="339.8" width="10.5" height="7.9" fill="#22ee77"/>
<rect x="1218.5" y="347.7" width="10.5" height="7.9" fill="#2ee8c0"/><rect x="1229" y="347.7" width="10.5" height="7.9" fill="#00ff88"/>
<rect x="1176.5" y="355.6" width="10.5" height="7.9" fill="#1a5cff"/>
<rect x="1176.5" y="363.5" width="10.5" height="7.9" fill="#00e5ff"/>
<rect x="1218.5" y="371.4" width="10.5" height="7.9" fill="#2ee8c0"/>
<rect x="1176.5" y="379.3" width="10.5" height="7.9" fill="#1a5cff"/>
<rect x="1176.5" y="387.2" width="10.5" height="7.9" fill="#00e5ff"/>
<rect x="1218.5" y="395.1" width="10.5" height="7.9" fill="#2ee8c0"/>
<rect x="1176.5" y="403" width="10.5" height="7.9" fill="#1a5cff"/>
<rect x="1176.5" y="410.9" width="10.5" height="7.9" fill="#00e5ff"/><rect x="1208" y="410.9" width="10.5" height="7.9" fill="#1a5cff"/><rect x="1229" y="410.9" width="10.5" height="7.9" fill="#2ee8c0"/>
<rect x="1176.5" y="426.7" width="10.5" height="7.9" fill="#2ee8c0"/><rect x="1229" y="426.7" width="10.5" height="7.9" fill="#2ee8c0"/>
<rect x="1187" y="434.6" width="10.5" height="7.9" fill="#1a5cff"/>
<rect x="1187" y="450.4" width="10.5" height="7.9" fill="#2ee8c0"/><rect x="1208" y="450.4" width="10.5" height="7.9" fill="#1a5cff"/>
<rect x="1208" y="458.3" width="10.5" height="7.9" fill="#00e5ff"/>
<rect x="1187" y="466.2" width="10.5" height="7.9" fill="#33ee11"/><rect x="1208" y="466.2" width="10.5" height="7.9" fill="#2ee8c0"/><rect x="1229" y="466.2" width="10.5" height="7.9" fill="#1a5cff"/>
<rect x="1229" y="474.1" width="10.5" height="7.9" fill="#00e5ff"/>
<rect x="1176.5" y="482" width="10.5" height="7.9" fill="#1a5cff"/><rect x="1218.5" y="482" width="10.5" height="7.9" fill="#2ee8c0"/>
<rect x="1229" y="489.9" width="10.5" height="7.9" fill="#00e5ff"/>
<rect x="1229" y="497.8" width="10.5" height="7.9" fill="#2ee8c0"/>
<rect x="1187" y="505.7" width="10.5" height="7.9" fill="#33ee11"/><rect x="1229" y="505.7" width="10.5" height="7.9" fill="#00e5ff"/>
<rect x="1187" y="521.5" width="10.5" height="7.9" fill="#33ee11"/><rect x="1208" y="521.5" width="10.5" height="7.9" fill="#00e5ff"/>
<rect x="1229" y="529.4" width="10.5" height="7.9" fill="#00e5ff"/>
<rect x="1208" y="537.3" width="10.5" height="7.9" fill="#2ee8c0"/>
<rect x="1176.5" y="545.2" width="10.5" height="7.9" fill="#33ee11"/><rect x="1218.5" y="545.2" width="10.5" height="7.9" fill="#00e5ff"/>
<rect x="1218.5" y="553.1" width="10.5" height="7.9" fill="#2ee8c0"/>
<rect x="1176.5" y="561" width="10.5" height="7.9" fill="#33ee11"/><rect x="1197.5" y="561" width="10.5" height="7.9" fill="#00e5ff"/><rect x="1229" y="561" width="10.5" height="7.9" fill="#2ee8c0"/>
<rect x="1218.5" y="568.9" width="10.5" height="7.9" fill="#2ee8c0"/>
<rect x="1229" y="648" width="10.5" height="7.9" fill="#ffffff"/>
<rect x="1218.5" y="679.6" width="10.5" height="7.9" fill="#ffd400"/><rect x="1229" y="679.6" width="10.5" height="7.9" fill="#ff1aa8"/>
<rect x="1229" y="695.4" width="10.5" height="7.9" fill="#ffffff"/>
</g>
<g stroke="#555" stroke-width="0.4">
<path d="M1176.5 284.5 V735 M1187 284.5 V735 M1197.5 284.5 V735 M1208 284.5 V735 M1218.5 284.5 V735 M1229 284.5 V735 M1239.5 284.5 V735"/>
<path d="M1176.5 284.5H1239.5M1176.5 292.4H1239.5M1176.5 300.3H1239.5M1176.5 308.2H1239.5M1176.5 316.1H1239.5M1176.5 324H1239.5M1176.5 331.9H1239.5M1176.5 339.8H1239.5M1176.5 347.7H1239.5M1176.5 355.6H1239.5M1176.5 363.5H1239.5M1176.5 371.4H1239.5M1176.5 379.3H1239.5M1176.5 387.2H1239.5M1176.5 395.1H1239.5M1176.5 403H1239.5M1176.5 410.9H1239.5M1176.5 418.8H1239.5M1176.5 426.7H1239.5M1176.5 434.6H1239.5M1176.5 442.5H1239.5M1176.5 450.4H1239.5M1176.5 458.3H1239.5M1176.5 466.2H1239.5M1176.5 474.1H1239.5M1176.5 482H1239.5M1176.5 489.9H1239.5M1176.5 497.8H1239.5M1176.5 505.7H1239.5M1176.5 513.6H1239.5M1176.5 521.5H1239.5M1176.5 529.4H1239.5M1176.5 537.3H1239.5M1176.5 545.2H1239.5M1176.5 553.1H1239.5M1176.5 561H1239.5M1176.5 568.9H1239.5M1176.5 576.8H1239.5M1176.5 584.7H1239.5M1176.5 592.6H1239.5M1176.5 600.5H1239.5M1176.5 608.4H1239.5M1176.5 616.3H1239.5M1176.5 624.2H1239.5M1176.5 632.1H1239.5M1176.5 640H1239.5M1176.5 647.9H1239.5M1176.5 655.8H1239.5M1176.5 663.7H1239.5M1176.5 671.6H1239.5M1176.5 679.5H1239.5M1176.5 687.4H1239.5M1176.5 695.3H1239.5M1176.5 703.2H1239.5M1176.5 711.1H1239.5M1176.5 719H1239.5M1176.5 726.9H1239.5M1176.5 734.8H1239.5"/>
</g>

<!-- ===== inset zoom panel ===== -->
<rect x="754" y="578" width="468" height="242" fill="#c8c9cb"/>
<g class="g">
<path d="M754 604 H790 V582 M790 604 H805 V598 H912 M805 604 V631 H890 V604 M805 604 V666 H1060 V612"/>
<path d="M838 631 V651 H870 V631"/>
<path d="M1053 600 H1065 M1205 600 H1222 M1205 600 V631 H1222"/>
<path d="M754 712 H790 V695 H862 V712 M790 712 V784 H862 V740 M754 747 H790 M754 790 H862 M790 747 V806 H862"/>
<path d="M1048 747 H1222 M1063 740 V703 H1200 V740 M1063 760 V815 H1200 V760 M1063 785 H1200"/>
<path d="M754 760 H760 V820"/>
</g>
<use href="#F" transform="translate(754 600) scale(36 1)"/>
<use href="#F" transform="translate(862 745) scale(18 1)"/>
<use href="#F" transform="translate(1048 745) scale(20 1)"/>
<use href="#F" transform="translate(1200 745) scale(22 1)"/>
<use href="#F" transform="translate(1053 604) scale(150 1)"/>
<g class="f">
<rect x="759" y="586" width="42" height="19"/><text x="780" y="601" font-size="16" textLength="38">good</text>
<rect x="837" y="595" width="32" height="7"/><text x="853" y="600.5" font-size="5.5" textLength="30">listening's</text>
<rect x="907" y="591" width="36" height="19"/><text x="925" y="604.5" font-size="14" textLength="32">good</text>
<rect x="1064" y="592" width="28" height="18"/><text x="1078" y="605" font-size="14" textLength="24">yay</text>
<rect x="1106" y="592" width="28" height="18"/><text x="1120" y="605" font-size="14" textLength="24">yay</text>
<rect x="1148" y="592" width="28" height="18"/><text x="1162" y="605" font-size="14" textLength="24">yay</text>
<rect x="837" y="627" width="32" height="8"/><text x="853" y="633.5" font-size="6.5" textLength="30">brushing</text>
<rect x="883" y="626" width="8" height="10"/><text x="887" y="634" font-size="8" textLength="5">is</text>
<rect x="826" y="647" width="25" height="8"/><text x="838.5" y="653.5" font-size="6" textLength="22">working</text>
<rect x="856" y="647" width="13" height="8"/><text x="862.5" y="653.5" font-size="6" textLength="10">out</text>
<rect x="831" y="662" width="8" height="8"/><text x="835" y="668.5" font-size="6" textLength="5">a</text>
<rect x="867" y="662" width="24" height="8"/><text x="879" y="668.5" font-size="6" textLength="21">helpful</text>
<rect x="919" y="662" width="20" height="8"/><text x="929" y="668.5" font-size="6" textLength="17">thing</text>
<rect x="970" y="662" width="10" height="8"/><text x="975" y="668.5" font-size="6" textLength="7">to</text>
<rect x="1014" y="662" width="12" height="8"/><text x="1020" y="668.5" font-size="6" textLength="9">do!</text>
<rect x="800" y="690" width="20" height="9"/><text x="810" y="697" font-size="7" textLength="17">work</text>
<rect x="832" y="690" width="20" height="9"/><text x="842" y="697" font-size="7" textLength="17">out!</text>
<rect x="821" y="723" width="22" height="9"/><text x="832" y="730" font-size="7" textLength="19">wash!</text>
<rect x="754" y="738" width="26" height="17"/><text x="767" y="751.5" font-size="13" textLength="18">to</text>
<rect x="815" y="742" width="26" height="9"/><text x="828" y="749" font-size="7" textLength="23">listen!</text>
<rect x="820" y="778" width="24" height="11"/><text x="832" y="787" font-size="8" textLength="21">brush!</text>
<rect x="764" y="798" width="28" height="16"/><text x="778" y="811" font-size="13" textLength="22">the</text>
<rect x="820" y="796" width="24" height="11"/><text x="832" y="805" font-size="8" textLength="21">shoes!</text>
<rect x="1101" y="698" width="22" height="10"/><text x="1112" y="706" font-size="7" textLength="18">flips</text>
<rect x="1134" y="698" width="16" height="10"/><text x="1142" y="706" font-size="7" textLength="12">the</text>
<rect x="1162" y="698" width="30" height="10"/><text x="1177" y="706" font-size="7" textLength="26">switch</text>
<rect x="1101" y="741" width="26" height="10"/><text x="1114" y="749" font-size="7" textLength="22">listen</text>
<rect x="1067" y="774" width="70" height="22"/><text x="1102" y="791" font-size="17" textLength="64">almost</text>
<rect x="1150" y="779" width="34" height="14"/><text x="1167" y="789.5" font-size="10" textLength="30">clean</text>
<rect x="1085" y="809" width="36" height="10"/><text x="1103" y="817" font-size="7" textLength="32">exercise</text>
<rect x="1169" y="808" width="18" height="12"/><text x="1178" y="817" font-size="8" textLength="12">on</text>
</g>
<g class="k" stroke="#ffffff" stroke-width="1.6">
<path d="M908 579 V605 H958 M1043 605 H1053 V631 H1185 V605 H1198 V579"/>
<path d="M756 708 H862 V740 H880 M1048 740 H1063 V720 H1168 V747 H1222"/>
</g>
<g class="n">
<rect x="957" y="587" width="35" height="23"/><text x="974.5" y="604.5" font-size="20" textLength="30">for</text>
<rect x="999" y="586" width="49" height="24"/><text x="1023.5" y="604" font-size="20" textLength="44">you!</text>
<rect x="1188" y="587" width="10" height="25"/><text x="1193" y="606" font-size="18" textLength="4">i</text>
<rect x="1065" y="624" width="21" height="15"/><text x="1075.5" y="635" font-size="12" textLength="16">no</text>
<rect x="1108" y="624" width="21" height="15"/><text x="1118.5" y="635" font-size="12" textLength="16">no</text>
<rect x="1154" y="624" width="21" height="15"/><text x="1164.5" y="635" font-size="12" textLength="16">no</text>
<rect x="766" y="703" width="22" height="10"/><text x="777" y="711" font-size="7.5" textLength="18">them</text>
<rect x="819" y="703" width="17" height="10"/><text x="827.5" y="711" font-size="7.5" textLength="14">too!</text>
<rect x="880" y="737" width="168" height="24"/><text x="964" y="756" font-size="20" textLength="160">one two three</text>
<rect x="1073" y="713" width="11" height="13"/><text x="1078.5" y="722.5" font-size="8" textLength="7">he</text>
<rect x="1104" y="714" width="16" height="12"/><text x="1112" y="723" font-size="8" textLength="12">ate</text>
<rect x="1132" y="714" width="22" height="12"/><text x="1143" y="723" font-size="8" textLength="18">them</text>
<rect x="1175" y="741" width="14" height="12"/><text x="1182" y="750" font-size="8" textLength="10">up</text>
</g>
<path d="M754 820 V578 H1222 V820" fill="none" stroke="#ffffff" stroke-width="2"/>
</svg>
</body></html>
